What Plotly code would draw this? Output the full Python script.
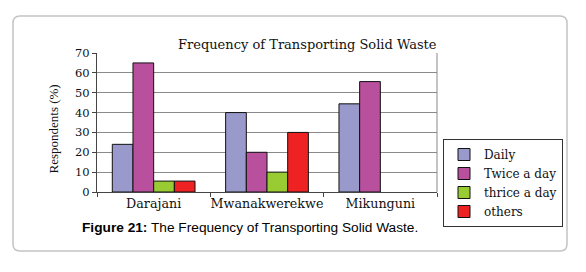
import plotly.graph_objects as go

categories = ["Darajani", "Mwanakwerekwe", "Mikunguni"]
series_names = ["Daily", "Twice a day", "thrice a day", "others"]
daily = [24, 40, 44.4]
twice = [65, 20, 55.6]
thrice = [5.5, 10, None]
others = [5.5, 30, None]
y_ticks = [0, 10, 20, 30, 40, 50, 60, 70]

colors = ["#9999CC", "#B8509E", "#99CC33", "#EE2222"]
SERIF = "DejaVu Serif"

fig = go.Figure()
for name, vals, col in zip(series_names, [daily, twice, thrice, others], colors):
    fig.add_trace(go.Bar(
        name=name, x=categories, y=vals,
        marker=dict(color=col, line=dict(color="#111111", width=1)),
    ))

# plot area in pixels: x 97..437, y 53..192
L, R, T, B = 97, 437, 53, 192
W, H = R - L, B - T
def px(x):
    return (x - L) / W
def py(y):
    return (B - y) / H

fig.update_layout(
    width=586, height=272,
    margin=dict(l=L, r=586 - R, t=T, b=272 - B, pad=0, autoexpand=False),
    paper_bgcolor="white", plot_bgcolor="white",
    barmode="group", bargap=0.27, bargroupgap=0,
    showlegend=True,
    legend=dict(
        x=px(443), y=py(139), xanchor="left", yanchor="top",
        bordercolor="#333333", borderwidth=1, bgcolor="white",
        font=dict(family=SERIF, size=12, color="#111111"),
        itemwidth=30, tracegroupgap=0,
    ),
    font=dict(family=SERIF, color="#111111"),
)

fig.update_xaxes(
    showline=True, linecolor="#444444", linewidth=1,
    ticks="outside", tickson="boundaries", ticklen=4, tickcolor="#444444",
    tickangle=0,
    tickfont=dict(family=SERIF, size=12.7, color="#111111"),
    showgrid=False,
)
fig.update_yaxes(
    range=[0, 70], tickvals=y_ticks,
    showline=True, linecolor="#444444", linewidth=1,
    ticks="outside", ticklen=4, tickcolor="#444444",
    tickfont=dict(family=SERIF, size=11.5, color="#111111"),
    showgrid=True, gridcolor="#8a8a8a", gridwidth=1,
    zeroline=False,
)

# right border of plot area
fig.add_shape(type="line", xref="paper", yref="paper", x0=1, x1=1, y0=0, y1=1,
              line=dict(color="#8a8a8a", width=1))

# outer rounded frame
x0, x1, y0, y1 = px(13), px(567), py(251), py(16)
rx, ry = 7 / W, 7 / H
path = (f"M {x0+rx},{y1} L {x1-rx},{y1} Q {x1},{y1} {x1},{y1-ry} "
        f"L {x1},{y0+ry} Q {x1},{y0} {x1-rx},{y0} "
        f"L {x0+rx},{y0} Q {x0},{y0} {x0},{y0+ry} "
        f"L {x0},{y1-ry} Q {x0},{y1} {x0+rx},{y1} Z")
fig.add_shape(type="path", xref="paper", yref="paper", path=path,
              line=dict(color="#c4c4c4", width=1.5), layer="below")

# chart title
fig.add_annotation(text="Frequency of Transporting Solid Waste", xref="paper", yref="paper",
                   x=px(307), y=py(35), showarrow=False,
                   font=dict(family=SERIF, size=13, color="#111111"))
# y-axis title
fig.add_annotation(text="Respondents (%)", xref="paper", yref="paper",
                   x=px(43), y=py(129), showarrow=False, textangle=-90,
                   font=dict(family="Liberation Serif", size=13, color="#111111"))
# caption
fig.add_annotation(text="<b>Figure 21:</b> The Frequency of Transporting Solid Waste.",
                   xref="paper", yref="paper", x=px(250), y=py(237), showarrow=False,
                   font=dict(family="Liberation Sans", size=13.7, color="#000000"))

fig.write_html("out.html", config={"displayModeBar": False},
               post_script="document.body.style.margin='0';")
